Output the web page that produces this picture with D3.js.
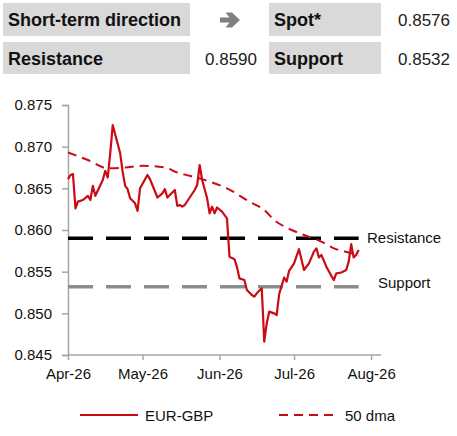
<!DOCTYPE html>
<html>
<head>
<meta charset="utf-8">
<script src="https://cdn.jsdelivr.net/npm/d3@7"></script>
<style>
  body { margin: 0; background: #fff; }
  svg { font-family: "Liberation Sans", Arial, sans-serif; }
</style>
</head>
<body>
<div id="chart"></div>
<script>
// EUR-GBP spot
const spotDates = [
  "2026-04-01","2026-04-02","2026-04-03","2026-04-04","2026-04-05","2026-04-07","2026-04-09","2026-04-10",
  "2026-04-11","2026-04-12","2026-04-15","2026-04-16","2026-04-17","2026-04-18","2026-04-19","2026-04-22",
  "2026-04-23","2026-04-24","2026-04-25","2026-04-26","2026-04-28","2026-04-29","2026-04-30",
  "2026-05-03","2026-05-04","2026-05-07","2026-05-09","2026-05-10","2026-05-11","2026-05-14","2026-05-15",
  "2026-05-16","2026-05-17","2026-05-18","2026-05-22","2026-05-23","2026-05-24","2026-05-25","2026-05-27",
  "2026-05-28","2026-05-29","2026-05-30","2026-05-31",
  "2026-06-02","2026-06-04","2026-06-05","2026-06-07","2026-06-08","2026-06-09","2026-06-11","2026-06-12",
  "2026-06-14","2026-06-15","2026-06-16","2026-06-18","2026-06-19","2026-06-20","2026-06-21","2026-06-23",
  "2026-06-24","2026-06-25","2026-06-27","2026-06-28","2026-06-29",
  "2026-07-01","2026-07-03","2026-07-05","2026-07-07","2026-07-09","2026-07-10","2026-07-11","2026-07-12",
  "2026-07-14","2026-07-16","2026-07-17","2026-07-18","2026-07-20","2026-07-22","2026-07-23","2026-07-24",
  "2026-07-25","2026-07-26","2026-07-27"
];
const spotValues = [
  0.8661,0.8666,0.8667,0.8626,0.8634,0.8636,0.8641,0.8636,
  0.8653,0.8641,0.8660,0.8671,0.8663,0.8692,0.8726,0.8692,
  0.8670,0.8653,0.8649,0.8638,0.8632,0.8623,0.8650,
  0.8666,0.8661,0.8639,0.8644,0.8649,0.8639,0.8648,0.8629,
  0.8630,0.8628,0.8630,0.8648,0.8654,0.8678,0.8660,0.8638,
  0.8620,0.8628,0.8620,0.8627,
  0.8622,0.8614,0.8568,0.8565,0.8556,0.8542,0.8540,0.8528,
  0.8522,0.8520,0.8524,0.8530,0.8466,0.8488,0.8502,0.8500,
  0.8498,0.8523,0.8543,0.8538,0.8551,
  0.8560,0.8577,0.8552,0.8560,0.8574,0.8578,0.8567,0.8570,
  0.8556,0.8545,0.8540,0.8548,0.8549,0.8552,0.8562,0.8583,
  0.8567,0.8570,0.8576
];

// 50 day moving average
const dmaDates = [
  "2026-04-01","2026-04-09","2026-04-17","2026-04-24","2026-05-01","2026-05-10","2026-05-15","2026-05-20",
  "2026-05-28","2026-06-04","2026-06-13","2026-06-19","2026-06-23","2026-06-26","2026-06-30","2026-07-05",
  "2026-07-12","2026-07-17","2026-07-23","2026-07-27"
];
const dmaValues = [
  0.8693,0.8684,0.8674,0.8675,0.8677,0.8675,0.8669,0.8665,
  0.8658,0.8650,0.8634,0.8624,0.8612,0.8606,0.8600,0.8594,
  0.8586,0.8578,0.8573,0.8569
];

const levelNames = ["Resistance", "Support"];
const levelValues = [0.8590, 0.8532];
const levelEnd = "2026-07-27";

const yTicks = [0.845, 0.850, 0.855, 0.860, 0.865, 0.870, 0.875];
const xTicks = ["2026-04-01","2026-05-01","2026-06-01","2026-07-01","2026-08-01"];

// header table (the direction cell holds an arrow, drawn below)
const headerLabels = ["Short-term direction", "Spot*", "Resistance", "Support"];
const headerValues = ["", "0.8576", "0.8590", "0.8532"];

const legendNames = ["EUR-GBP", "50 dma"];

const W = 457, H = 436;
const red = "#cc0a14";
const axisColor = "#a6a6a6";
const parse = d3.utcParse("%Y-%m-%d");

const svg = d3.select("#chart").append("svg")
  .attr("width", W)
  .attr("height", H);

// ---- header boxes
const boxes = [
  { x: 3, y: 3, w: 187, h: 33, tx: 8, vx: 257 },
  { x: 269, y: 3, w: 112, h: 33, tx: 274, vx: 450 },
  { x: 3, y: 42, w: 187, h: 32, tx: 8, vx: 257 },
  { x: 269, y: 42, w: 112, h: 32, tx: 274, vx: 450 }
];
boxes.forEach((b, i) => {
  svg.append("rect")
    .attr("x", b.x).attr("y", b.y)
    .attr("width", b.w).attr("height", b.h)
    .attr("fill", "#d9d9d9");
  svg.append("text")
    .attr("x", b.tx).attr("y", b.y + b.h / 2 + 6.5)
    .attr("font-size", 18).attr("font-weight", "bold")
    .attr("fill", "#111")
    .text(headerLabels[i]);
  svg.append("text")
    .attr("x", b.vx).attr("y", b.y + b.h / 2 + 6.5)
    .attr("text-anchor", "end")
    .attr("font-size", 17).attr("fill", "#222")
    .text(headerValues[i]);
});

// sideways arrow for the direction
svg.append("path")
  .attr("d", "M220,17.5H229.5L225.5,12.5H232L240,20L232,27.5H225.5L229.5,22.5H220Z")
  .attr("fill", "#7f7f7f");

// ---- chart
const x = d3.scaleUtc()
  .domain([parse("2026-04-01"), parse("2026-08-05")])
  .range([68, 381]);
const y = d3.scaleLinear()
  .domain([0.845, 0.875])
  .range([355, 105]);

const yAxis = svg.append("g")
  .attr("transform", "translate(68,0)")
  .call(d3.axisLeft(y).tickValues(yTicks).tickFormat(d3.format(".3f")).tickSize(6).tickPadding(10));
const xAxis = svg.append("g")
  .attr("transform", "translate(0,355)")
  .call(d3.axisBottom(x).tickValues(xTicks.map(parse)).tickFormat(d3.utcFormat("%b-%y")).tickSize(5).tickPadding(8));

[yAxis, xAxis].forEach(a => {
  a.select(".domain").attr("stroke", axisColor).attr("stroke-width", 1.5);
  a.selectAll(".tick line").attr("stroke", axisColor).attr("stroke-width", 1.5);
  a.selectAll(".tick text").attr("fill", "#111").attr("font-size", 15)
    .attr("font-family", "Liberation Sans, Arial, sans-serif");
});
xAxis.select(".domain").attr("d", "M68,0H381");

// support / resistance lines
const levelColors = ["#000", "#8c8c8c"];
levelValues.forEach((v, i) => {
  svg.append("line")
    .attr("x1", x(parse("2026-04-01"))).attr("x2", x(parse(levelEnd)))
    .attr("y1", y(v)).attr("y2", y(v))
    .attr("stroke", levelColors[i])
    .attr("stroke-width", 3.5)
    .attr("stroke-dasharray", "25,13");
});
svg.append("text")
  .attr("x", 367).attr("y", y(levelValues[0]) + 5)
  .attr("font-size", 15).attr("fill", "#111")
  .text(levelNames[0]);
svg.append("text")
  .attr("x", 378).attr("y", y(levelValues[1]) + 1)
  .attr("font-size", 15).attr("fill", "#111")
  .text(levelNames[1]);

// dma line
const dma = dmaDates.map((d, i) => ({ date: parse(d), value: dmaValues[i] }));
svg.append("path")
  .datum(dma)
  .attr("fill", "none")
  .attr("stroke", red)
  .attr("stroke-width", 2)
  .attr("stroke-dasharray", "9,6")
  .attr("d", d3.line().x(d => x(d.date)).y(d => y(d.value)).curve(d3.curveMonotoneX));

// spot line
const spot = spotDates.map((d, i) => ({ date: parse(d), value: spotValues[i] }));
svg.append("path")
  .datum(spot)
  .attr("fill", "none")
  .attr("stroke", red)
  .attr("stroke-width", 2.2)
  .attr("stroke-linejoin", "round")
  .attr("d", d3.line().x(d => x(d.date)).y(d => y(d.value)));

// ---- legend
const legend = [
  { x1: 80, x2: 138, tx: 145, dash: null },
  { x1: 279, x2: 337, tx: 345, dash: "9,6" }
];
legend.forEach((l, i) => {
  svg.append("line")
    .attr("x1", l.x1).attr("x2", l.x2)
    .attr("y1", 415).attr("y2", 415)
    .attr("stroke", red).attr("stroke-width", 2.2)
    .attr("stroke-dasharray", l.dash);
  svg.append("text")
    .attr("x", l.tx).attr("y", 420.5)
    .attr("font-size", 15).attr("fill", "#111")
    .text(legendNames[i]);
});
</script>
</body>
</html>
